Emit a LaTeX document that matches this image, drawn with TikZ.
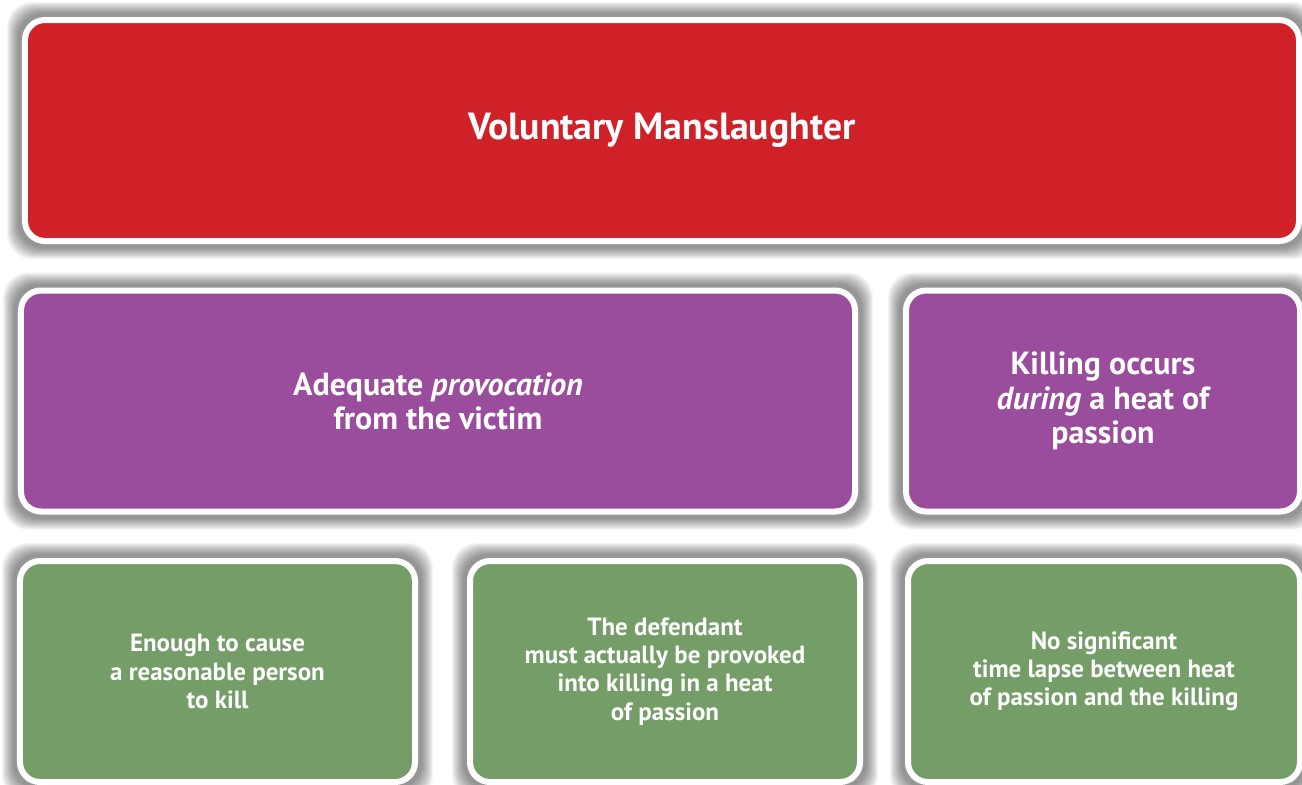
\documentclass[tikz,border=0pt]{standalone}
\usepackage{fontspec}
\setmainfont{PT Sans}
\usetikzlibrary{backgrounds}
\definecolor{headred}{RGB}{208,33,41}
\definecolor{elementpurple}{RGB}{153,77,156}
\definecolor{detailgreen}{RGB}{116,157,104}

%% soft grey halo round a named box (drawn on the background layer)
\newcommand{\boxshadow}[1]{%
  \foreach \k in {1,...,12}{%
    \fill[black, opacity=0.045, rounded corners=5mm]
      ([xshift=-0.6mm-\k*0.2mm, yshift=0.6mm+\k*0.2mm]#1.north west) rectangle
      ([xshift=0.6mm+\k*0.2mm, yshift=-0.6mm-\k*0.2mm]#1.south east);
  }%
}

\begin{document}
\begin{tikzpicture}[
    x=0.2mm, y=-0.2mm,
    %% Styles  (1 unit = one pixel of the original, y runs downwards)
    box/.style={
      rectangle, rounded corners=4mm,
      draw=white, line width=1.2mm,
      minimum height=44.2mm, inner sep=0pt,
      text=white, align=center, font=\bfseries
    },
    headBox/.style={box, fill=headred, minimum width=254.8mm,
      font=\bfseries\fontsize{21.5}{24}\selectfont},
    elemBox/.style={box, fill=elementpurple,
      font=\bfseries\fontsize{18.2}{19.5}\selectfont},
    detailBox/.style={box, fill=detailgreen, minimum width=78.4mm,
      font=\bfseries\fontsize{14.2}{16}\selectfont}
  ]

  \useasboundingbox (0,0) rectangle (1302,784);

  %% ── Row 0: offence  (y = 130) ────────────────────────────
  \node[headBox] (offence) at (662,130.5) {Voluntary Manslaughter};

  %% ── Row 1: elements  (y = 401) ───────────────────────────
  \node[elemBox, minimum width=166.8mm] (provocation) at (438,401)
    {Adequate \textit{provocation}\\from the victim};

  \node[elemBox, minimum width=78.8mm] (passion) at (1103,401)
    {Killing occurs\\\textit{during} a heat of\\passion};

  %% ── Row 2: details  (y = 671) ────────────────────────────
  \node[detailBox, minimum width=79mm] (reasonable) at (217.5,671.5)
    {Enough to cause\\a reasonable person\\to kill};

  \node[detailBox, minimum width=78mm] (provoked) at (665,671.5)
    {The defendant\\must actually be provoked\\into killing in a heat\\of passion};

  \node[detailBox] (nolapse) at (1104,671.5)
    {No significant\\time lapse between heat\\of passion and the killing};

  %% ── Shadows ─────────────────────────────────────────────
  \begin{pgfonlayer}{background}
    \boxshadow{offence}
    \boxshadow{provocation}
    \boxshadow{passion}
    \boxshadow{reasonable}
    \boxshadow{provoked}
    \boxshadow{nolapse}
  \end{pgfonlayer}

\end{tikzpicture}
\end{document}
